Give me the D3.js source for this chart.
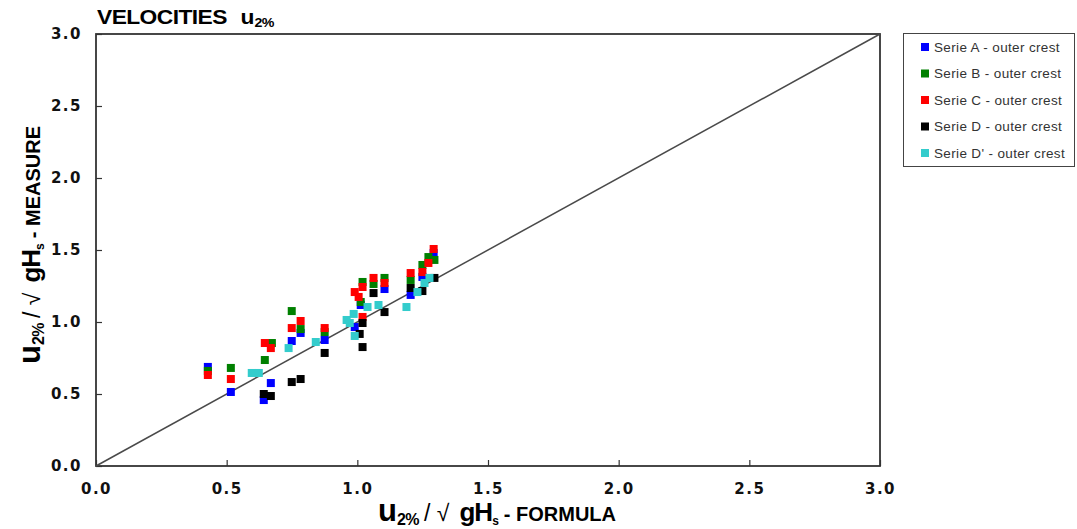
<!DOCTYPE html>
<html>
<head>
<meta charset="utf-8">
<script src="https://cdn.jsdelivr.net/npm/d3@7"></script>
<style>
  html, body { margin: 0; padding: 0; background: #fff; }
  svg { display: block; }
</style>
</head>
<body>
<svg id="chart" width="1077" height="529"></svg>
<script>
// Dimensionless velocity u2% / sqrt(g Hs): formula (x) against measurement (y)
const tickValues = [0, 0.5, 1.0, 1.5, 2.0, 2.5, 3.0];
const tickLabels = ["0.0", "0.5", "1.0", "1.5", "2.0", "2.5", "3.0"];

const seriesNames = ["Serie A - outer crest", "Serie B - outer crest", "Serie C - outer crest",
                     "Serie D - outer crest", "Serie D' - outer crest"];
const seriesColors = ["#0000ff", "#008000", "#ff0000", "#000000", "#33cccc"];

const serieA = [[0.428,0.688],[0.516,0.514],[0.642,0.458],[0.669,0.576],[0.749,0.868],[0.783,0.924],
                [0.875,0.875],[0.990,0.965],[1.013,1.118],[1.104,1.229],[1.204,1.188],[1.249,1.313],[1.292,1.479]];
const serieB = [[0.428,0.660],[0.516,0.681],[0.646,0.736],[0.673,0.854],[0.749,1.076],[0.783,0.951],
                [0.875,0.930],[1.020,1.278],[1.013,1.139],[1.062,1.264],[1.104,1.306],[1.204,1.292],
                [1.249,1.396],[1.272,1.451],[1.295,1.431]];
const serieC = [[0.428,0.632],[0.516,0.604],[0.646,0.854],[0.669,0.819],[0.749,0.958],[0.783,1.007],
                [0.875,0.958],[0.990,1.208],[1.005,1.174],[1.020,1.243],[1.020,1.035],[1.062,1.306],
                [1.104,1.271],[1.204,1.340],[1.249,1.347],[1.272,1.410],[1.292,1.507]];
const serieD = [[0.642,0.500],[0.669,0.486],[0.749,0.583],[0.783,0.604],[0.875,0.785],[1.009,0.917],
                [1.020,0.993],[1.020,0.826],[1.062,1.201],[1.104,1.069],[1.204,1.236],[1.249,1.215],[1.295,1.306]];
const serieDp = [[0.596,0.646],[0.623,0.646],[0.737,0.819],[0.841,0.861],[0.959,1.014],[0.971,0.993],
                 [0.986,1.056],[0.990,0.903],[1.039,1.104],[1.081,1.118],[1.188,1.104],[1.230,1.208],
                 [1.257,1.271],[1.276,1.306]];
const allSeries = [serieA, serieB, serieC, serieD, serieDp];

const svg = d3.select("#chart");
const plotLeft = 96, plotTop = 34, plotRight = 880, plotBottom = 466;

const x = d3.scaleLinear().domain([0, 3]).range([plotLeft, plotRight]);
const y = d3.scaleLinear().domain([0, 3]).range([plotBottom, plotTop]);

const labelFont = "'DejaVu Sans', 'Liberation Sans', Arial, sans-serif";
const textFont = "'Liberation Sans', Arial, sans-serif";

// x axis, ticks pointing into the plot
const xAxis = svg.append("g")
  .attr("transform", `translate(0,${plotBottom})`)
  .call(d3.axisBottom(x).tickValues(tickValues).tickFormat((d, i) => tickLabels[i])
        .tickSizeInner(-6).tickSizeOuter(0).tickPadding(17));
xAxis.select(".domain").remove();
xAxis.selectAll("line").attr("stroke", "#333").attr("stroke-width", 1.2);
xAxis.selectAll("text").attr("font-family", labelFont).attr("font-weight", "bold")
  .attr("font-size", 15).attr("letter-spacing", 1.5).attr("fill", "#111");

// y axis, ticks pointing into the plot
const yAxis = svg.append("g")
  .attr("transform", `translate(${plotLeft},0)`)
  .call(d3.axisLeft(y).tickValues(tickValues).tickFormat((d, i) => tickLabels[i])
        .tickSizeInner(-6).tickSizeOuter(0).tickPadding(14));
yAxis.select(".domain").remove();
yAxis.selectAll("line").attr("stroke", "#333").attr("stroke-width", 1.2);
yAxis.selectAll("text").attr("font-family", labelFont).attr("font-weight", "bold")
  .attr("font-size", 15).attr("letter-spacing", 1.5).attr("fill", "#111");

// plot frame
svg.append("rect")
  .attr("x", plotLeft).attr("y", plotTop)
  .attr("width", plotRight - plotLeft).attr("height", plotBottom - plotTop)
  .attr("fill", "none").attr("stroke", "#333").attr("stroke-width", 1.8);

// 1:1 line
svg.append("line")
  .attr("x1", x(0)).attr("y1", y(0)).attr("x2", x(3)).attr("y2", y(3))
  .attr("stroke", "#4a4a4a").attr("stroke-width", 1.5);

// data markers
const ms = 8;
allSeries.forEach((data, i) => {
  svg.append("g").selectAll("rect")
    .data(data).enter().append("rect")
    .attr("x", d => x(d[0]) - ms / 2)
    .attr("y", d => y(d[1]) - ms / 2)
    .attr("width", ms).attr("height", ms)
    .attr("fill", seriesColors[i]);
});

// title, slightly widened lettering
const title = svg.append("text")
  .attr("transform", "translate(97,24) scale(1.14,1)")
  .attr("font-family", textFont).attr("font-weight", "bold").attr("fill", "#000");
title.append("tspan").attr("font-size", 20).attr("letter-spacing", -0.5).text("VELOCITIES");
title.append("tspan").attr("font-size", 20).attr("dx", 12).text("u");
title.append("tspan").attr("font-size", 12.5).attr("dy", 3).attr("letter-spacing", -0.5).text("2%");

// axis titles built from pieces (subscripts and root sign)
function axisTitle(g, tail) {
  g.attr("font-family", textFont).attr("fill", "#000");
  g.append("tspan").attr("font-size", 31).attr("font-weight", "bold").text("u");
  g.append("tspan").attr("font-size", 16).attr("font-weight", "bold").attr("dy", 4)
    .attr("letter-spacing", -0.5).text("2%");
  g.append("tspan").attr("font-size", 23).attr("dy", -4).attr("dx", 5).text("/ √");
  g.append("tspan").attr("font-size", 26).attr("font-weight", "bold").attr("dx", 10)
    .attr("letter-spacing", -1).text("gH");
  g.append("tspan").attr("font-size", 12).attr("font-weight", "bold").attr("dy", 4).text("s");
  g.append("tspan").attr("font-size", 20).attr("font-weight", "bold").attr("dy", -4).attr("dx", 5)
    .attr("letter-spacing", 0).text("- " + tail);
}

axisTitle(svg.append("text").attr("x", 497).attr("y", 521).attr("text-anchor", "middle"), "FORMULA");
axisTitle(svg.append("text").attr("text-anchor", "middle")
  .attr("transform", "translate(40,245) rotate(-90)"), "MEASURE");

// legend
const legend = svg.append("g");
legend.append("rect")
  .attr("x", 903.5).attr("y", 33.5).attr("width", 171).attr("height", 133)
  .attr("fill", "#fff").attr("stroke", "#444").attr("stroke-width", 1);
seriesNames.forEach((name, i) => {
  const ly = 47 + i * 26.5;
  legend.append("rect").attr("x", 921).attr("y", ly - 4).attr("width", 8).attr("height", 8)
    .attr("fill", seriesColors[i]);
  legend.append("text").attr("x", 934).attr("y", ly + 4.5)
    .attr("font-family", textFont).attr("font-size", 13.5).attr("letter-spacing", 0.35)
    .attr("fill", "#333").text(name);
});
</script>
</body>
</html>
